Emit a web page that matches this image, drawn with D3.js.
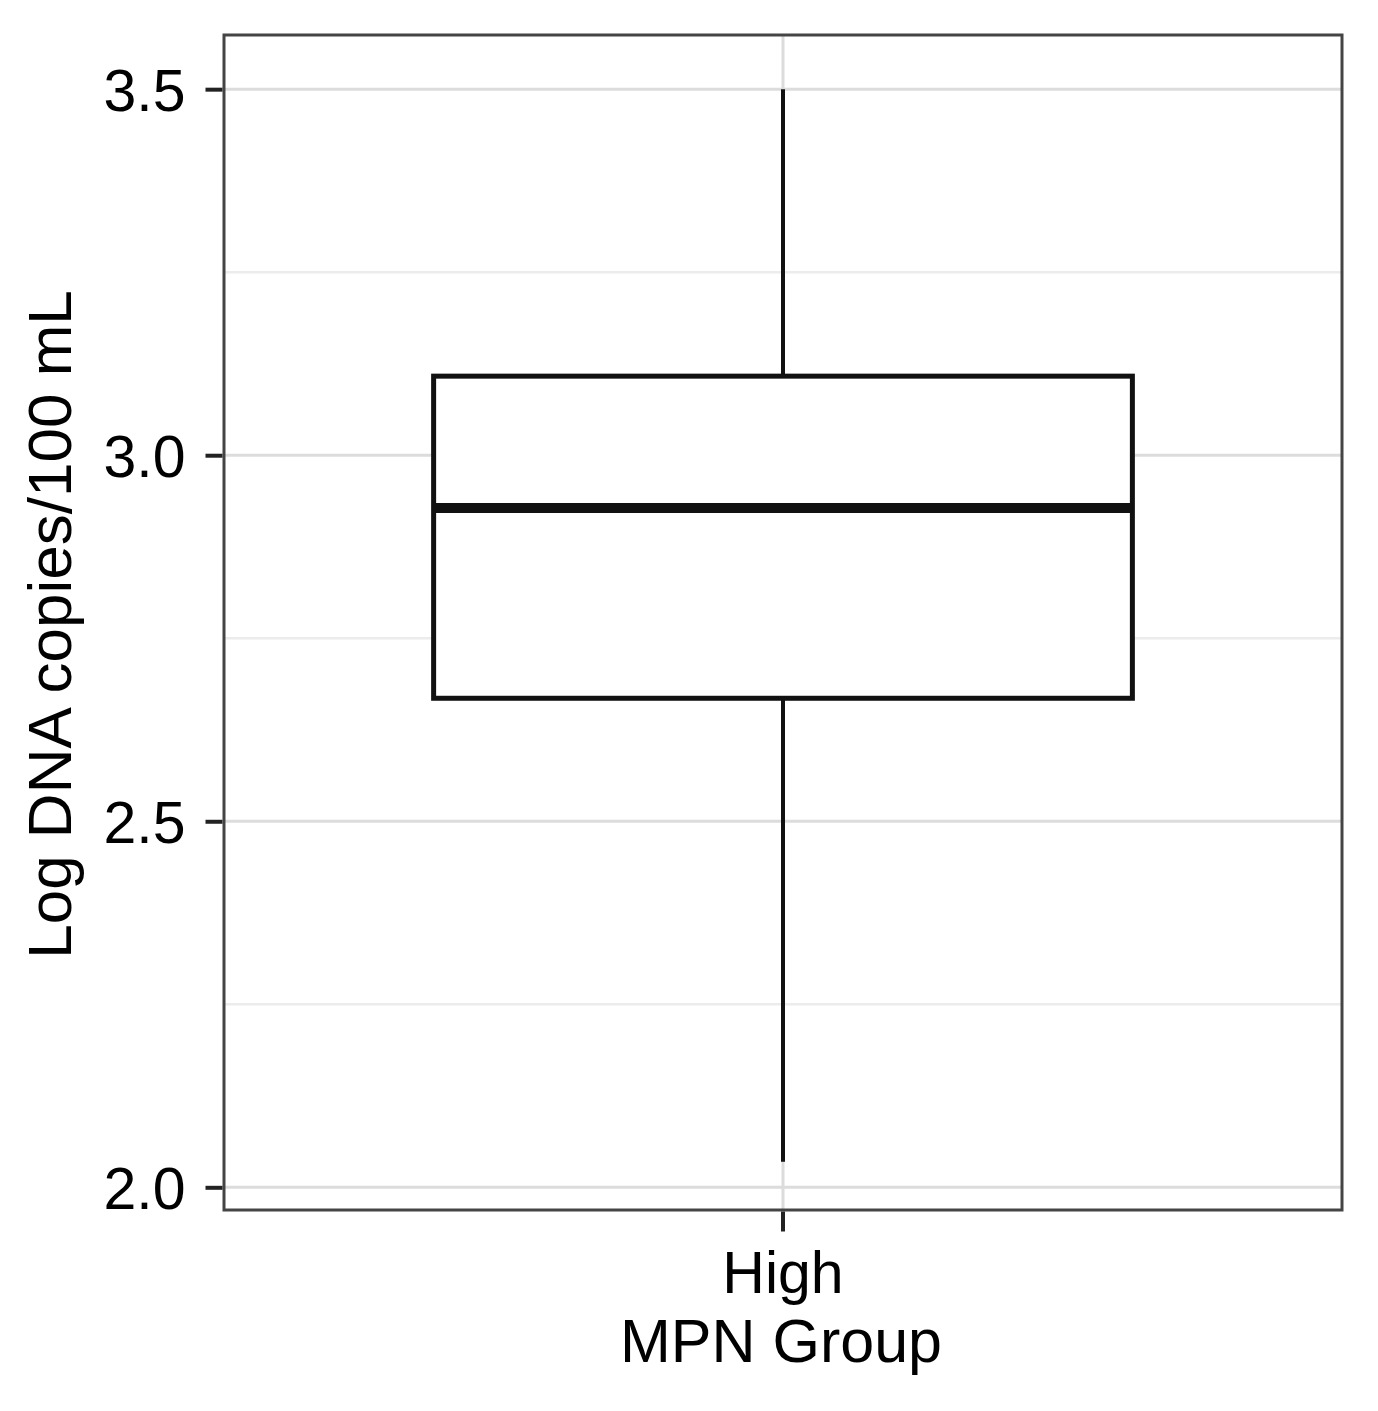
<!DOCTYPE html>
<html>
<head>
<meta charset="utf-8">
<script src="https://cdn.jsdelivr.net/npm/d3@7"></script>
<style>
  html, body { margin: 0; padding: 0; background: #fff; }
  svg { display: block; }
  text { font-family: "Liberation Sans", Arial, sans-serif; fill: #000; }
</style>
</head>
<body>
<svg id="chart" width="1378" height="1411"></svg>
<script>
// Data
const categories = ["High"];
const whiskerLow = [2.035];
const q1 = [2.668];
const median = [2.928];
const q3 = [3.108];
const whiskerHigh = [3.5];
const yTicks = [2.0, 2.5, 3.0, 3.5];
const yMinorTicks = [2.25, 2.75, 3.25];
const xTitle = "MPN Group";
const yTitle = "Log DNA copies/100 mL";

(function () {
const svg = d3.select("#chart");
const pLeft = 224, pRight = 1342, pTop = 35, pBottom = 1210;

const y = d3.scaleLinear().domain([1.969, 3.574]).range([pBottom, pTop]);
const x = d3.scaleBand().domain(categories).range([pLeft, pRight]).paddingInner(0).paddingOuter(0);
// ggplot-like discrete expansion: box width 0.75 of a unit, panel spans 1.2 units
const unit = (pRight - pLeft) / 1.2;
const cx = c => x(c) + x.bandwidth() / 2;

// grid
const g = svg.append("g");
g.selectAll(".minor").data(yMinorTicks).enter().append("line")
  .attr("x1", pLeft).attr("x2", pRight)
  .attr("y1", d => y(d)).attr("y2", d => y(d))
  .attr("stroke", "#ececec").attr("stroke-width", 2.5);
g.selectAll(".major").data(yTicks).enter().append("line")
  .attr("x1", pLeft).attr("x2", pRight)
  .attr("y1", d => y(d)).attr("y2", d => y(d))
  .attr("stroke", "#dcdcdc").attr("stroke-width", 3);
g.selectAll(".vmajor").data(categories).enter().append("line")
  .attr("x1", d => cx(d)).attr("x2", d => cx(d))
  .attr("y1", pTop).attr("y2", pBottom)
  .attr("stroke", "#dcdcdc").attr("stroke-width", 3);

// boxplot
const data = categories.map((c, i) => ({c, lo: whiskerLow[i], q1: q1[i], med: median[i], q3: q3[i], hi: whiskerHigh[i]}));
const bw = unit * 0.75;
const bx = svg.append("g");
data.forEach(d => {
  bx.append("line").attr("x1", cx(d.c)).attr("x2", cx(d.c))
    .attr("y1", y(d.q3)).attr("y2", y(d.hi)).attr("stroke", "#111").attr("stroke-width", 4);
  bx.append("line").attr("x1", cx(d.c)).attr("x2", cx(d.c))
    .attr("y1", y(d.q1)).attr("y2", y(d.lo)).attr("stroke", "#111").attr("stroke-width", 4);
  bx.append("rect").attr("x", cx(d.c) - bw / 2).attr("width", bw)
    .attr("y", y(d.q3)).attr("height", y(d.q1) - y(d.q3))
    .attr("fill", "#fff").attr("stroke", "#111").attr("stroke-width", 5);
  bx.append("line").attr("x1", cx(d.c) - bw / 2).attr("x2", cx(d.c) + bw / 2)
    .attr("y1", y(d.med)).attr("y2", y(d.med)).attr("stroke", "#111").attr("stroke-width", 10);
});

// panel border
svg.append("rect").attr("x", pLeft).attr("y", pTop)
  .attr("width", pRight - pLeft).attr("height", pBottom - pTop)
  .attr("fill", "none").attr("stroke", "#444").attr("stroke-width", 3);

// y axis
const yAxis = d3.axisLeft(y).tickValues(yTicks).tickFormat(d3.format(".1f")).tickSize(17).tickPadding(20);
const ya = svg.append("g").attr("transform", `translate(${pLeft - 1.5},0)`).call(yAxis);
ya.select(".domain").remove();
ya.selectAll(".tick line").attr("stroke", "#222").attr("stroke-width", 4);
ya.selectAll(".tick text").attr("font-size", 59).attr("fill", "#000")
  .attr("font-family", "Liberation Sans, Arial, sans-serif").attr("dy", "0.36em");

// x axis
const xAxis = d3.axisBottom(x).tickSize(20).tickPadding(20);
const xa = svg.append("g").attr("transform", `translate(0,${pBottom + 1.5})`).call(xAxis);
xa.select(".domain").remove();
xa.selectAll(".tick line").attr("stroke", "#222").attr("stroke-width", 4);
xa.selectAll(".tick text").attr("font-size", 59).attr("fill", "#000")
  .attr("font-family", "Liberation Sans, Arial, sans-serif").attr("dy", "0.71em");

// titles
svg.append("text").attr("x", (pLeft + pRight) / 2 - 2).attr("y", 1362)
  .attr("text-anchor", "middle").attr("font-size", 61).text(xTitle);
svg.append("text").attr("transform", `translate(71,${(pTop + pBottom) / 2 + 2}) rotate(-90)`)
  .attr("text-anchor", "middle").attr("font-size", 62).text(yTitle);
})();
</script>
</body>
</html>
